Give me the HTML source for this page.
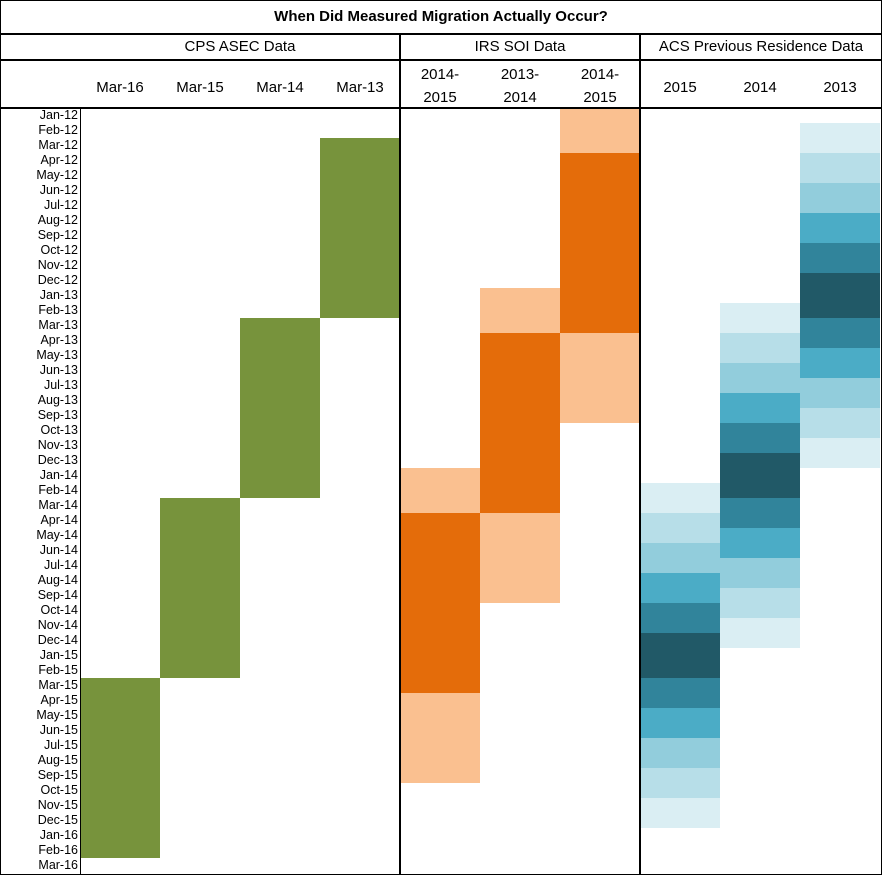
<!DOCTYPE html>
<html><head><meta charset="utf-8"><style>
body{margin:0;width:882px;height:875px;background:#fff;font-family:"Liberation Sans",sans-serif;overflow:hidden}
#c{position:relative;width:882px;height:875px}
.a{position:absolute;box-sizing:border-box}
.t{position:absolute;text-align:center;color:#000}
.yl{position:absolute;left:0;width:78px;text-align:right;font-size:12.5px;line-height:15px;color:#000}
</style></head><body>
<div id="c">
<div class="a" style="left:0;top:0;width:882px;height:875px;border:1px solid #000"></div>
<div class="t" style="left:0;top:8px;width:882px;font-weight:bold;font-size:15px">When Did Measured Migration Actually Occur?</div>
<div class="a" style="left:0;top:33px;width:882px;height:2px;background:#000"></div>
<div class="a" style="left:0;top:59px;width:882px;height:2px;background:#000"></div>
<div class="a" style="left:0;top:107px;width:882px;height:1.5px;background:#000"></div>
<div class="a" style="left:80px;top:108px;width:1px;height:767px;background:#000"></div>
<div class="a" style="left:399px;top:34px;width:2px;height:841px;background:#000"></div>
<div class="a" style="left:639px;top:34px;width:2px;height:841px;background:#000"></div>
<div class="t" style="left:80px;top:38px;width:320px;font-size:15px">CPS ASEC Data</div>
<div class="t" style="left:400px;top:38px;width:240px;font-size:15px">IRS SOI Data</div>
<div class="t" style="left:640px;top:38px;width:242px;font-size:15px">ACS Previous Residence Data</div>
<div id="g"></div>
</div>
<script>
const months=["Jan","Feb","Mar","Apr","May","Jun","Jul","Aug","Sep","Oct","Nov","Dec"];
const columnLabels=["Mar-16","Mar-15","Mar-14","Mar-13","2014-<br>2015","2013-<br>2014","2014-<br>2015","2015","2014","2013"];
// segments: [column, startMonthIndex, rowCount, shade]
const cpsSegments=[[0,38,12,"g"],[1,26,12,"g"],[2,14,12,"g"],[3,2,12,"g"]];
const irsSegments=[[4,24,3,"o1"],[4,27,12,"o2"],[4,39,6,"o1"],[5,12,3,"o1"],[5,15,12,"o2"],[5,27,6,"o1"],[6,0,3,"o1"],[6,3,12,"o2"],[6,15,6,"o1"]];
const acsStarts=[25,13,1];
const acsRows=[2,2,2,2,2,3,2,2,2,2,2];
const acsShades=["b1","b2","b3","b4","b5","b6","b5","b4","b3","b2","b1"];
const colors={g:"#77933C",o1:"#FAC090",o2:"#E46C0A",b1:"#DAEEF3",b2:"#B7DEE8",b3:"#92CDDC",b4:"#4BACC6",b5:"#31849B",b6:"#215967"};
const c=document.getElementById('c');
const X=i=>80+i*80, Y=m=>108+m*15;
function seg(col,start,n,sh){
  const d=document.createElement('div');
  
  
  d.className='a';
  d.style.cssText=`left:${X(col)+(col==4||col==7?1:0)}px;top:${Y(start)}px;width:${80-(col==4||col==7?1:0)-(col==3||col==6?1:0)}px;height:${n*15}px;background:${colors[sh]}`;
  c.insertBefore(d,c.children[1]);
}
cpsSegments.concat(irsSegments).forEach(s=>seg(...s));
acsStarts.forEach((st,k)=>{let m=st;acsRows.forEach((r,j)=>{seg(7+k,m,r,acsShades[j]);m+=r;});});
for(let i=0;i<51;i++){
  const d=document.createElement('div');
  
  
  d.className='yl';
  d.style.top=(Y(i)+(i==0?0:0))+'px';
  d.textContent=months[i%12]+'-'+(12+Math.floor(i/12));
  c.appendChild(d);
}
columnLabels.forEach((l,i)=>{
  const d=document.createElement('div');
  
  
  d.className='t';
  const two=l.includes('<br>');
  d.style.cssText=`left:${X(i)}px;top:${two?63:76}px;width:80px;font-size:15px;line-height:23px`;
  d.innerHTML=l;
  c.appendChild(d);
});
</script>
</body></html>
